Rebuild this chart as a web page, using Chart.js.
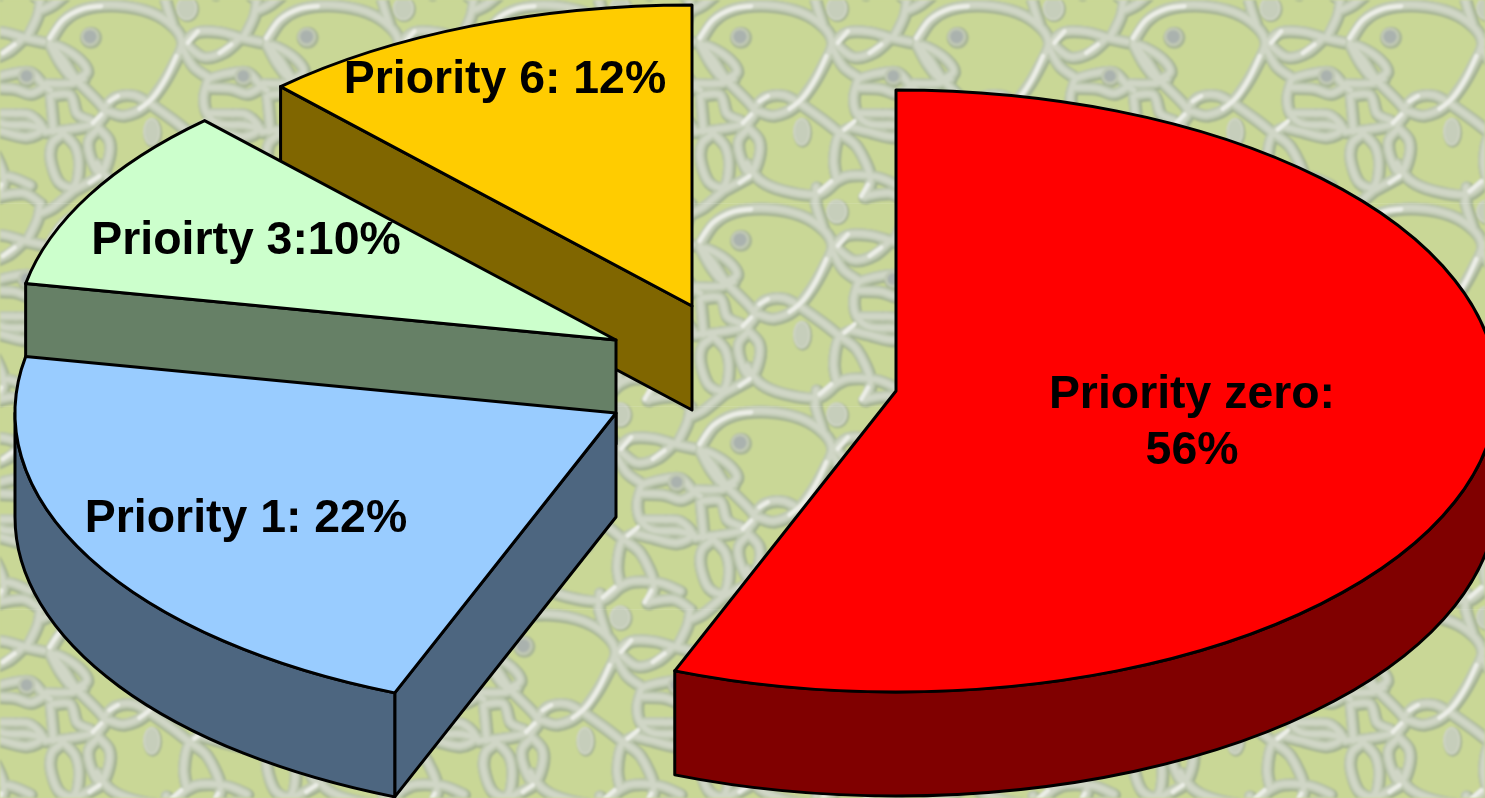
<!DOCTYPE html>
<html>
<head>
<meta charset="utf-8">
<title>Priority split</title>
<style>
  html, body { margin: 0; padding: 0; background: #c8d796; overflow: hidden; }
  canvas { display: block; }
</style>
<script src="https://cdn.jsdelivr.net/npm/chart.js@4"></script>
</head>
<body>
<canvas id="pie" width="1485" height="798"></canvas>
<script>
// Chart values
const categories = ['Priority zero', 'Priority 1', 'Priority 3', 'Priority 6'];
const shares = [56, 22, 10, 12];
const labelLines = [['Priority zero:', '56%'], ['Priority 1: 22%'], ['Prioirty 3:10%'], ['Priority 6: 12%']];

// Slice styling
const topColours = ['#ff0000', '#99ccff', '#ccffcc', '#ffcc00'];
const sideColours = ['#800000', '#4d6680', '#668066', '#806600'];

// Exploded layout: where each slice's apex sits and where its label goes
const apexes = [[896, 391], [616, 413], [616, 340], [692, 306]];
const labelAnchors = [[1192, 395], [246, 519], [246, 241], [505, 80]];
const paintOrder = [3, 2, 1, 0];
const TILT = { radiusX: 601, radiusY: 301, depth: 104, line: 3 };
const LABEL_FONT = 'bold 46.4px "Liberation Sans", Arial, sans-serif';
const LABEL_LEADING = 56;

// Lace wallpaper: one repeat of the knotwork, traced in tile units (1/3 px)
const TILE = { w: 650, h: 609, originX: 690, originY: 0 };
const strands = [
  [[30,120],[70,60],[130,25],[230,15],[330,35],[400,80],[425,130],[400,190],[360,260],[310,320],[250,345],[200,335],[175,365]],
  [[30,130],[70,180],[110,240],[190,325],[175,365]],
  [[195,320],[225,290],[280,285],[330,310]],
  [[30,135],[60,140],[115,175],[140,215],[100,235],[60,190],[30,135]],
  [[20,250],[90,250],[130,235]],
  [[38,285],[90,285],[110,340],[150,360]],
  [[30,290],[35,340],[40,395]],
  [[15,395],[100,385],[175,370]],
  [[70,400],[35,430],[30,480],[55,545],[100,560],[115,500],[105,440],[70,400]],
  [[175,385],[145,420],[150,470],[180,520],[205,470],[205,420],[175,385]],
  [[170,490],[210,540],[280,570],[380,582],[440,540],[480,525],[560,530],[620,555]],
  [[100,570],[175,530]],
  [[0,640],[40,620],[100,570]],
  [[330,310],[400,360],[450,400],[500,440],[540,530],[525,590]],
  [[480,380],[445,405],[430,480],[440,540]],
  [[430,130],[470,95],[540,95],[600,112],[660,125]],
  [[440,135],[490,170],[550,155],[600,112]],
  [[430,150],[460,200],[510,235]],
  [[505,235],[490,290],[500,340],[540,372],[610,375],[660,385]],
  [[505,235],[560,220],[620,215],[660,255],[680,270]],
  [[500,262],[570,265],[620,280],[655,265]],
  [[500,340],[570,340],[620,345],[655,385],[610,410],[540,395],[480,380]],
  [[375,0],[385,35],[400,80]],
  [[610,112],[640,50],[650,0]],
  [[375,609],[378,560]],
  [[650,0],[600,-30],[520,-20]]
];
const brightRuns = [
  [[30,115],[70,60],[130,28],[185,20]],
  [[410,170],[380,235],[340,295],[300,328]],
  [[540,160],[575,135]],
  [[390,575],[425,545]],
  [[150,550],[180,530]],
  [[160,370],[185,345]],
  [[445,130],[475,95]],
  [[465,390],[495,365]],
  [[210,305],[235,290]],
  [[515,590],[535,555]]
];
const drops = [[440,25,26,30],[335,395,20,36]];
const beads = [[150,110,24],[610,228,22]];

function smoothPath(path, pts, sx, sy) {
  const p = pts.map(q => [q[0] * sx, q[1] * sy]);
  path.moveTo(p[0][0], p[0][1]);
  for (let i = 0; i < p.length - 1; i++) {
    const a = p[Math.max(i - 1, 0)], b = p[i], c = p[i + 1], d = p[Math.min(i + 2, p.length - 1)];
    path.bezierCurveTo(b[0] + (c[0] - a[0]) / 6, b[1] + (c[1] - a[1]) / 6,
                       c[0] - (d[0] - b[0]) / 6, c[1] - (d[1] - b[1]) / 6, c[0], c[1]);
  }
}

function paintWallpaper(ctx, width, height) {
  const layer = document.createElement('canvas');
  layer.width = width; layer.height = height;
  const g = layer.getContext('2d');
  g.fillStyle = '#c9d796';
  g.fillRect(0, 0, width, height);

  const unit = 1 / 3;
  const lace = new Path2D(), shine = new Path2D(), dropPath = new Path2D(), beadPath = new Path2D();
  strands.forEach(s => smoothPath(lace, s, unit, unit));
  brightRuns.forEach(s => smoothPath(shine, s, unit, unit));
  drops.forEach(d => {
    dropPath.moveTo((d[0] + d[2]) * unit, d[1] * unit);
    dropPath.ellipse(d[0] * unit, d[1] * unit, d[2] * unit, d[3] * unit, 0, 0, Math.PI * 2);
  });
  beads.forEach(b => {
    beadPath.moveTo((b[0] + b[2]) * unit, b[1] * unit);
    beadPath.arc(b[0] * unit, b[1] * unit, b[2] * unit, 0, Math.PI * 2);
  });

  const stepX = TILE.w * unit, stepY = TILE.h * unit;
  const forEachTile = fn => {
    for (let j = -1; j * stepY < height + stepY; j++) {
      for (let i = -4; TILE.originX + i * stepX < width + stepX; i++) {
        g.save();
        g.translate(TILE.originX + i * stepX, TILE.originY + j * stepY);
        fn();
        g.restore();
      }
    }
  };
  const pass = (path, colour, w, dx, dy) => forEachTile(() => {
    g.translate(dx, dy);
    g.strokeStyle = colour; g.lineWidth = w;
    g.lineCap = 'round'; g.lineJoin = 'round';
    g.stroke(path);
  });

  pass(lace, '#a4b293', 13, 1.2, 1.2);
  pass(dropPath, '#a9b696', 6, 1, 1);
  pass(beadPath, '#a9b696', 6, 1, 1);
  pass(lace, '#bfc9b2', 10.5, 0, 0);
  pass(lace, '#d0d6c6', 5.5, 0, 0);
  pass(dropPath, '#cfd5c4', 4, 0, 0);
  forEachTile(() => {
    g.fillStyle = '#c6cebb'; g.fill(dropPath);
    g.fillStyle = '#aab2ae'; g.fill(beadPath);
  });
  pass(beadPath, '#c0c8b4', 3, 0, 0);
  pass(shine, '#eceee7', 4.5, -0.5, -0.5);

  ctx.save();
  ctx.filter = 'blur(1px)';
  ctx.drawImage(layer, 0, 0);
  ctx.restore();

  // Faint seams where the wallpaper tile repeats
  ctx.fillStyle = 'rgba(255,255,255,0.10)';
  for (let j = 1; j * stepY < height; j++) ctx.fillRect(0, Math.round(j * stepY), width, 1);
}

const tiltedPie = {
  id: 'tiltedPie',
  beforeDraw(chart) {
    paintWallpaper(chart.ctx, chart.width, chart.height);
  },
  beforeDatasetsDraw(chart) {
    const ctx = chart.ctx;
    const arcs = chart.getDatasetMeta(0).data;
    const { radiusX: rx, radiusY: ry, depth, line } = TILT;

    ctx.save();
    ctx.lineWidth = line;
    ctx.strokeStyle = '#000';
    ctx.lineJoin = 'round';

    paintOrder.forEach(i => {
      const arc = arcs[i];
      const [cx, cy] = apexes[i];
      const start = arc.startAngle, end = arc.endAngle;
      const onRim = a => [cx + rx * Math.cos(a), cy + ry * Math.sin(a)];
      const [sx, sy] = onRim(start);
      const [ex, ey] = onRim(end);

      ctx.fillStyle = sideColours[i];

      // Cut faces that turn towards the viewer
      const wall = (px, py) => {
        ctx.beginPath();
        ctx.moveTo(cx, cy);
        ctx.lineTo(px, py);
        ctx.lineTo(px, py + depth);
        ctx.lineTo(cx, cy + depth);
        ctx.closePath();
        ctx.fill();
        ctx.stroke();
      };
      if (Math.cos(start) < -1e-6) wall(sx, sy);
      if (Math.cos(end) > 1e-6) wall(ex, ey);

      // Rim: the part of the outer edge on the near half of the ellipse
      const a0 = Math.max(start, 0), a1 = Math.min(end, Math.PI);
      if (a1 > a0) {
        ctx.beginPath();
        ctx.ellipse(cx, cy, rx, ry, 0, a0, a1);
        ctx.ellipse(cx, cy + depth, rx, ry, 0, a1, a0, true);
        ctx.closePath();
        ctx.fill();
        ctx.stroke();
      }

      // Top face: the library's own arc, flattened into an ellipse
      ctx.save();
      ctx.translate(cx, cy);
      ctx.scale(rx / arc.outerRadius, ry / arc.outerRadius);
      ctx.translate(-arc.x, -arc.y);
      arc.draw(ctx);
      ctx.restore();

      ctx.beginPath();
      ctx.moveTo(cx, cy);
      ctx.ellipse(cx, cy, rx, ry, 0, start, end);
      ctx.closePath();
      ctx.stroke();
    });

    ctx.fillStyle = '#000';
    ctx.font = LABEL_FONT;
    ctx.textAlign = 'center';
    ctx.textBaseline = 'middle';
    labelLines.forEach((lines, i) => {
      lines.forEach((text, k) => {
        ctx.fillText(text, labelAnchors[i][0], labelAnchors[i][1] + k * LABEL_LEADING);
      });
    });
    ctx.restore();
    return false;
  }
};

new Chart(document.getElementById('pie'), {
  type: 'pie',
  data: {
    labels: categories,
    datasets: [{ data: shares, backgroundColor: topColours, borderWidth: 0 }]
  },
  options: {
    responsive: false,
    animation: false,
    rotation: 0,
    layout: { padding: 0 },
    plugins: { legend: { display: false }, tooltip: { enabled: false } }
  },
  plugins: [tiltedPie]
});
</script>
</body>
</html>
